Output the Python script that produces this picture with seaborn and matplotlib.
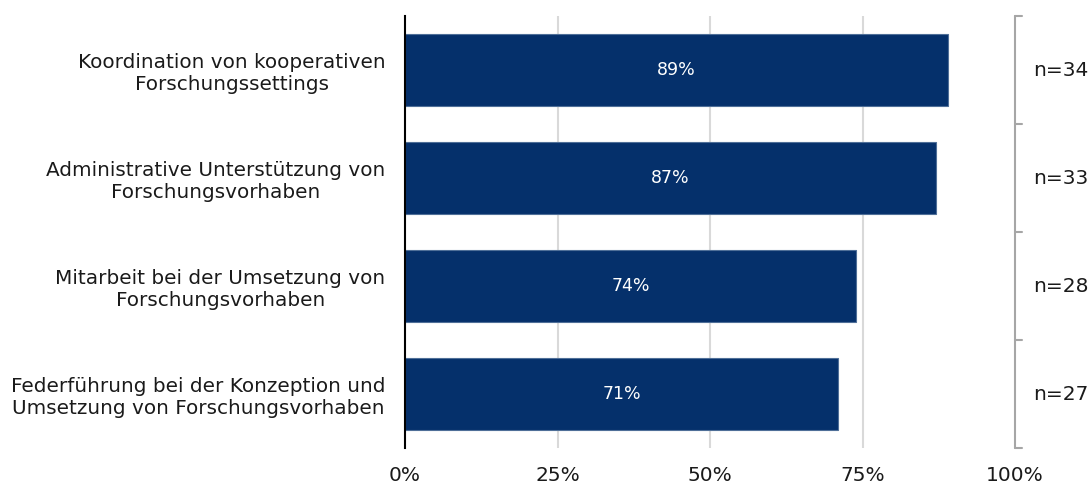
import matplotlib
matplotlib.use("Agg")
import matplotlib.pyplot as plt
import matplotlib.transforms as mtransforms
import pandas as pd
import seaborn as sns

# Data
categories = [
    "Koordination von kooperativen\nForschungssettings",
    "Administrative Unterstützung von\nForschungsvorhaben",
    "Mitarbeit bei der Umsetzung von\nForschungsvorhaben",
    "Federführung bei der Konzeption und\nUmsetzung von Forschungsvorhaben",
]
shares = [89, 87, 74, 71]
sample_sizes = [34, 33, 28, 27]
x_ticks = [0, 25, 50, 75, 100]
x_tick_labels = ["0%", "25%", "50%", "75%", "100%"]

df = pd.DataFrame({"Kategorie": categories, "Anteil": shares})

sns.set_theme(style="white")
plt.rcParams["font.family"] = ["DejaVu Sans"]

BAR = "#05306b"
GRID = "#d9d9d9"
BRACKET = "#a6a6a6"
TEXT = "#1a1a1a"

fig = plt.figure(figsize=(10.9, 4.84), dpi=100)
ax = fig.add_axes([405 / 1090, 1 - 448 / 484, 610 / 1090, 432 / 484])

sns.barplot(data=df, x="Anteil", y="Kategorie", orient="h", color=BAR,
            saturation=1, width=0.667, edgecolor="#4f6f98", linewidth=0.8,
            ax=ax, zorder=3)

ax.set_xlim(0, 100)
ax.set_ylim(3.5, -0.5)
ax.set_xticks(x_ticks)
ax.set_xticklabels(x_tick_labels, fontsize=14.5, color=TEXT)
ax.tick_params(axis="x", length=0, pad=13)
ax.tick_params(axis="y", length=0, pad=14)
for lbl in ax.get_yticklabels():
    lbl.set_fontsize(14.4)
    lbl.set_color(TEXT)
    lbl.set_multialignment("center")
    lbl.set_linespacing(1.2)
ax.set_xlabel("")
ax.set_ylabel("")

# vertical gridlines
for v in x_ticks[1:-1]:
    ax.axvline(v, color=GRID, lw=1.5, zorder=1)

for side in ["top", "right", "bottom"]:
    ax.spines[side].set_visible(False)
ax.spines["left"].set_color("black")
ax.spines["left"].set_linewidth(1.5)
ax.spines["left"].set_zorder(4)

# value labels inside bars
for i, v in enumerate(shares):
    ax.text(v / 2, i, f"{v}%", ha="center", va="center", color="white",
            fontsize=12.5, zorder=5)

# bracket with sample sizes on the right, ticks at category boundaries
trans = mtransforms.blended_transform_factory(ax.transAxes, ax.transData)
bounds = [i - 0.5 for i in range(len(categories) + 1)]
ax.plot([1.0, 1.0], [bounds[0], bounds[-1]], transform=trans, color=BRACKET,
        lw=1.5, clip_on=False, zorder=2)
for yb in bounds:
    ax.plot([1.0, 1.012], [yb, yb], transform=trans, color=BRACKET,
            lw=1.5, clip_on=False, zorder=2)
for i, n in enumerate(sample_sizes):
    ax.text(1.03, i, f"n={n}", transform=trans, ha="left", va="center",
            fontsize=14.5, color=TEXT)

fig.savefig("out.png", dpi=100, facecolor="white")
